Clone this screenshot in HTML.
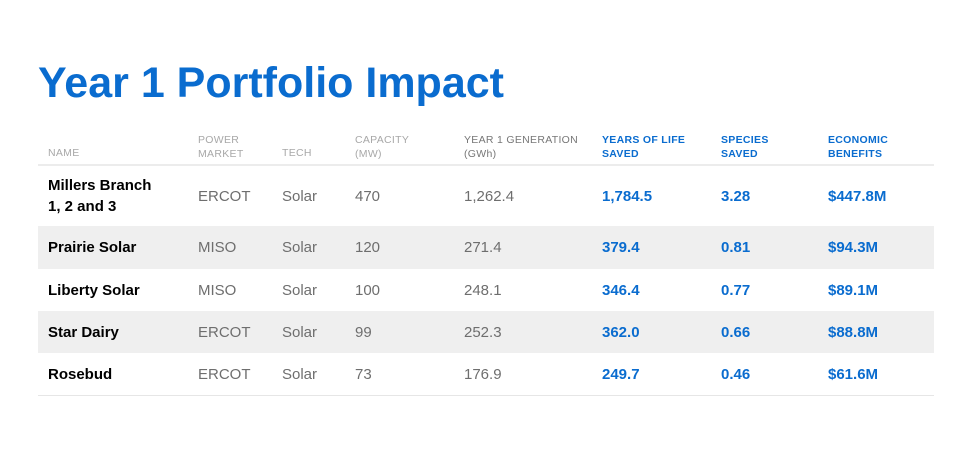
<!DOCTYPE html>
<html><head><meta charset="utf-8"><style>
body{margin:0;width:975px;height:454px;background:#fff;font-family:"Liberation Sans",Arial,sans-serif;position:relative;overflow:hidden}
h1{position:absolute;left:38px;top:58px;margin:0;font-size:43px;font-weight:bold;color:#0a6ccf;line-height:50px}
.hd{position:absolute;top:134px;font-size:10.5px;line-height:13.5px;color:#a8a8a8;letter-spacing:0.3px}
.hd.b{color:#0a6ccf;font-weight:bold}
.hd.d{color:#777}
.line{position:absolute;left:38px;width:896px;height:2px;background:#ececec;top:164px}
.row{position:absolute;left:38px;width:896px}
.row.g{background:#efefef}
.c{position:absolute;font-size:15px;color:#6e6e6e;line-height:19px}
.n{color:#000;font-weight:bold}
.v{color:#0a6ccf;font-weight:bold}
.bot{position:absolute;left:38px;width:896px;height:1px;background:#e6e6e6;top:395px}
</style></head><body>
<h1>Year 1 Portfolio Impact</h1>
<div class="hd" style="left:48px;top:147px">NAME</div>
<div class="hd" style="left:198px">POWER<br>MARKET</div>
<div class="hd" style="left:282px;top:147px">TECH</div>
<div class="hd" style="left:355px">CAPACITY<br>(MW)</div>
<div class="hd d" style="left:464px">YEAR 1 GENERATION<br>(GWh)</div>
<div class="hd b" style="left:602px">YEARS OF LIFE<br>SAVED</div>
<div class="hd b" style="left:721px">SPECIES<br>SAVED</div>
<div class="hd b" style="left:828px">ECONOMIC<br>BENEFITS</div>
<div class="line"></div>
<div id="rows"></div>
<div class="bot"></div>
<script>
const names=["Millers Branch<br>1, 2 and 3","Prairie Solar","Liberty Solar","Star Dairy","Rosebud"];
const markets=["ERCOT","MISO","MISO","ERCOT","ERCOT"];
const techs=["Solar","Solar","Solar","Solar","Solar"];
const capacity=["470","120","100","99","73"];
const generation=["1,262.4","271.4","248.1","252.3","176.9"];
const years=["1,784.5","379.4","346.4","362.0","249.7"];
const species=["3.28","0.81","0.77","0.66","0.46"];
const econ=["$447.8M","$94.3M","$89.1M","$88.8M","$61.6M"];
const tops=[166,226,269,311,353], hs=[60,43,42,42,42];
const cont=document.getElementById('rows');
const cols=[[names,10,'n','name'],[markets,160,'','market'],[techs,244,'','tech'],[capacity,317,'','capacity'],[generation,426,'','generation'],[years,564,'v','years'],[species,683,'v','species'],[econ,790,'v','economic']];
names.forEach((_,i)=>{
  const r=document.createElement('div');
  
  
  r.className='row'+(i%2?' g':'');
  r.style.top=tops[i]+'px';r.style.height=hs[i]+'px';
  cols.forEach(([arr,x,cls,nm])=>{
    const c=document.createElement('div');
    
    
    c.className='c '+cls;c.innerHTML=arr[i];
    c.style.left=x+'px';
    const lines=(arr[i].match(/<br>/g)||[]).length+1;
    c.style.top=(hs[i]-lines*(cls==='n'&&lines>1?21:19))/2+'px';
    if(lines>1)c.style.lineHeight='21px';
    r.appendChild(c);
  });
  cont.appendChild(r);
});
</script>
</body></html>
